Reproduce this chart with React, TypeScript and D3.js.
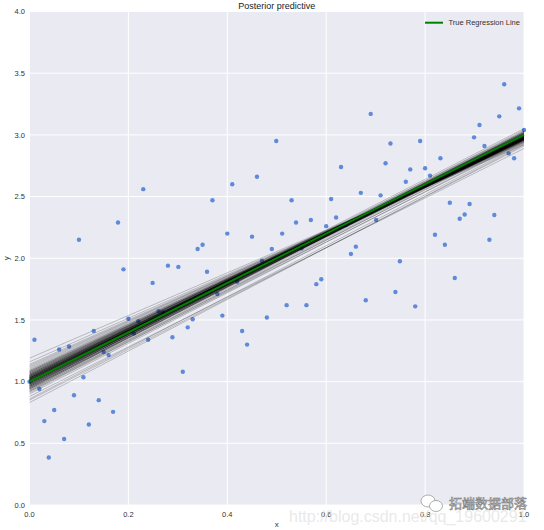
import React from "react";
import * as d3 from "d3";

const obsX = [
  0.0, 0.01, 0.02, 0.03, 0.039, 0.05, 0.06, 0.07, 0.08, 0.09,
  0.1, 0.109, 0.12, 0.13, 0.14, 0.15, 0.16, 0.169, 0.179, 0.19,
  0.2, 0.211, 0.22, 0.23, 0.24, 0.249, 0.261, 0.27, 0.28, 0.289,
  0.301, 0.31, 0.32, 0.33, 0.34, 0.35, 0.359, 0.37, 0.38, 0.39,
  0.4, 0.41, 0.42, 0.43, 0.44, 0.45, 0.46, 0.47, 0.48, 0.49,
  0.499, 0.511, 0.52, 0.53, 0.539, 0.55, 0.56, 0.569, 0.58, 0.59,
  0.6, 0.61, 0.62, 0.63, 0.64, 0.65, 0.66, 0.67, 0.68, 0.69,
  0.701, 0.71, 0.72, 0.73, 0.74, 0.749, 0.761, 0.77, 0.78, 0.79,
  0.8, 0.81, 0.82, 0.831, 0.84, 0.85, 0.86, 0.87, 0.88, 0.89,
  0.899, 0.91, 0.92, 0.93, 0.94, 0.95, 0.96, 0.969, 0.98, 0.99, 1.0,
];
const obsY = [
  1.0, 1.34, 0.94, 0.68, 0.385, 0.77, 1.26, 0.535, 1.285, 0.89,
  2.15, 1.035, 0.653, 1.41, 0.85, 1.24, 1.215, 0.755, 2.29, 1.91,
  1.51, 1.39, 1.49, 2.56, 1.34, 1.8, 1.57, 1.56, 1.94, 1.36,
  1.93, 1.08, 1.44, 1.505, 2.075, 2.11, 1.89, 2.47, 1.71, 1.535,
  2.2, 2.6, 1.81, 1.41, 1.3, 2.175, 2.66, 1.98, 1.52, 2.075,
  2.95, 2.2, 1.62, 2.47, 2.29, 2.08, 1.62, 2.31, 1.79, 1.83,
  2.26, 2.48, 2.33, 2.74, 2.27, 2.035, 2.094, 2.53, 1.66, 3.17,
  2.31, 2.51, 2.77, 2.93, 1.726, 1.976, 2.62, 2.72, 1.61, 2.95,
  2.73, 2.67, 2.19, 2.81, 2.11, 2.45, 1.84, 2.32, 2.355, 2.44,
  2.98, 3.08, 2.91, 2.15, 2.35, 3.15, 3.41, 2.85, 2.81, 3.215, 3.04,
];

// Posterior predictive regression lines: value at x=0 and value at x=1
const lineStarts = [
  1.02, 0.98, 1.05, 0.95, 1.01, 1.08, 0.99, 1.03, 0.93, 1.06,
  1.0, 0.97, 1.11, 1.04, 0.96, 1.02, 0.9, 1.07, 1.01, 0.99,
  1.13, 0.94, 1.03, 1.0, 0.97, 1.05, 0.86, 1.02, 1.09, 0.98,
  1.04, 0.95, 1.01, 1.16, 0.99, 1.03, 0.92, 1.06, 1.0, 0.97,
  1.02, 1.08, 0.96, 1.04, 0.83, 1.01, 0.99, 1.1, 0.94, 1.03,
  1.0, 1.05, 0.98, 1.02, 0.91, 1.07, 1.01, 0.96, 1.04, 1.19,
  0.99, 1.03, 0.95, 1.06, 1.0, 0.97, 1.12, 1.02, 0.93, 1.05,
  1.01, 0.98, 1.04, 0.88, 1.03, 1.0, 1.08, 0.96, 1.02, 0.99,
  1.06, 0.94, 1.01, 1.14, 0.97, 1.03, 1.0, 0.92, 1.05, 0.98,
  1.02, 1.09, 0.95, 1.04, 1.0, 0.85, 1.03, 0.99, 1.07, 1.01,
];
const lineEnds = [
  2.98, 2.99, 2.97, 3.0, 2.98, 2.96, 3.01, 2.97, 2.99, 2.98,
  3.02, 2.98, 2.95, 2.97, 3.01, 2.99, 2.95, 2.97, 3.03, 2.97,
  2.94, 3.0, 2.98, 2.96, 3.04, 2.96, 2.93, 2.99, 2.96, 3.0,
  2.98, 3.02, 2.99, 2.93, 2.98, 2.97, 2.98, 2.97, 3.01, 2.99,
  2.96, 2.95, 3.03, 2.98, 2.92, 3.0, 2.97, 2.95, 3.01, 2.99,
  2.98, 2.97, 3.0, 2.96, 2.97, 2.97, 2.99, 3.02, 2.98, 2.92,
  3.0, 2.98, 2.99, 2.96, 3.05, 2.98, 2.95, 2.97, 2.96, 2.97,
  3.01, 3.0, 2.98, 2.89, 2.97, 2.99, 2.96, 3.01, 2.98, 3.0,
  2.97, 3.0, 2.97, 2.94, 3.02, 2.98, 2.99, 2.94, 2.97, 3.01,
  2.99, 2.96, 3.0, 2.97, 2.98, 2.91, 2.96, 3.02, 2.96, 2.99,
];

// True regression line (y at x=0 and x=1)
const trueLine = [1.0, 3.0];

const xTicks = [0.0, 0.2, 0.4, 0.6, 0.8, 1.0];
const yTicks = [0.0, 0.5, 1.0, 1.5, 2.0, 2.5, 3.0, 3.5, 4.0];

const W = 544;
const H = 530;
const left = 29.5;
const right = 524;
const top = 11.5;
const bottom = 505;

export default function App() {
  const x = d3.scaleLinear().domain([0, 1]).range([left, right]);
  const y = d3.scaleLinear().domain([0, 4]).range([bottom, top]);
  const fmt = d3.format(".1f");
  const line = d3
    .line<[number, number]>()
    .x((d) => x(d[0]))
    .y((d) => y(d[1]));
  const font = "'Liberation Sans', Arial, sans-serif";

  return (
    <svg
      width={W}
      height={H}
      style={{ position: "absolute", left: 0, top: 0, background: "#fff" }}
    >
      <rect x={left} y={top} width={right - left} height={bottom - top} fill="#EAEAF2" />
      {xTicks.map((t) => (
        <line key={"gx" + t} x1={x(t)} x2={x(t)} y1={top} y2={bottom} stroke="#fff" strokeWidth={1} />
      ))}
      {yTicks.map((t) => (
        <line key={"gy" + t} x1={left} x2={right} y1={y(t)} y2={y(t)} stroke="#fff" strokeWidth={1} />
      ))}
      {obsX.map((v, i) => (
        <circle key={"p" + i} cx={x(v)} cy={y(obsY[i])} r={2.2} fill="#5F8ADA" />
      ))}
      {lineStarts.map((s, i) => (
        <path
          key={"l" + i}
          d={line([
            [0, s],
            [1, lineEnds[i]],
          ]) || ""}
          stroke="#000"
          strokeOpacity={0.22}
          strokeWidth={1}
          fill="none"
        />
      ))}
      <path
        d={line([
          [0, trueLine[0]],
          [1, trueLine[1]],
        ]) || ""}
        stroke="#008000"
        strokeWidth={2}
        fill="none"
      />
      {xTicks.map((t) => (
        <text key={"tx" + t} x={x(t)} y={517} fontSize={7.5} fill="#333" textAnchor="middle" fontFamily={font}>
          {fmt(t)}
        </text>
      ))}
      {yTicks.map((t) => (
        <text key={"ty" + t} x={25} y={y(t) + 2.7} fontSize={7.5} fill="#333" textAnchor="end" fontFamily={font}>
          {fmt(t)}
        </text>
      ))}
      <text x={(left + right) / 2} y={9} fontSize={9} fill="#222" textAnchor="middle" fontFamily={font}>
        Posterior predictive
      </text>
      <text x={(left + right) / 2} y={527} fontSize={8} fill="#333" textAnchor="middle" fontFamily={font}>
        x
      </text>
      <text
        x={9}
        y={(top + bottom) / 2}
        fontSize={8}
        fill="#333"
        textAnchor="middle"
        fontFamily={font}
        transform={`rotate(-90 9 ${(top + bottom) / 2})`}
      >
        y
      </text>
      <line x1={425} x2={443} y1={22.7} y2={22.7} stroke="#008000" strokeWidth={2} />
      <text x={448.5} y={25.3} fontSize={7.5} fill="#333" fontFamily={font}>
        True Regression Line
      </text>
      {/* watermark */}
      <text x={289} y={522} fontSize={16} fill="#e2e2e2" fillOpacity={0.75} fontFamily={font}>
        http://blog.csdn.net/qq_19600291
      </text>
      <g stroke="#9a9a9a" strokeWidth={0.8} fill="#fff">
        <ellipse cx={428} cy={501} rx={7} ry={6} />
        <ellipse cx={436} cy={506} rx={6.5} ry={5.5} />
      </g>
      <text
        x={449}
        y={508}
        fontSize={13}
        fill="#fff"
        stroke="#7a7a7a"
        strokeWidth={0.6}
        fontFamily="'Noto Sans CJK SC', sans-serif"
      >
        拓端数据部落
      </text>
    </svg>
  );
}
